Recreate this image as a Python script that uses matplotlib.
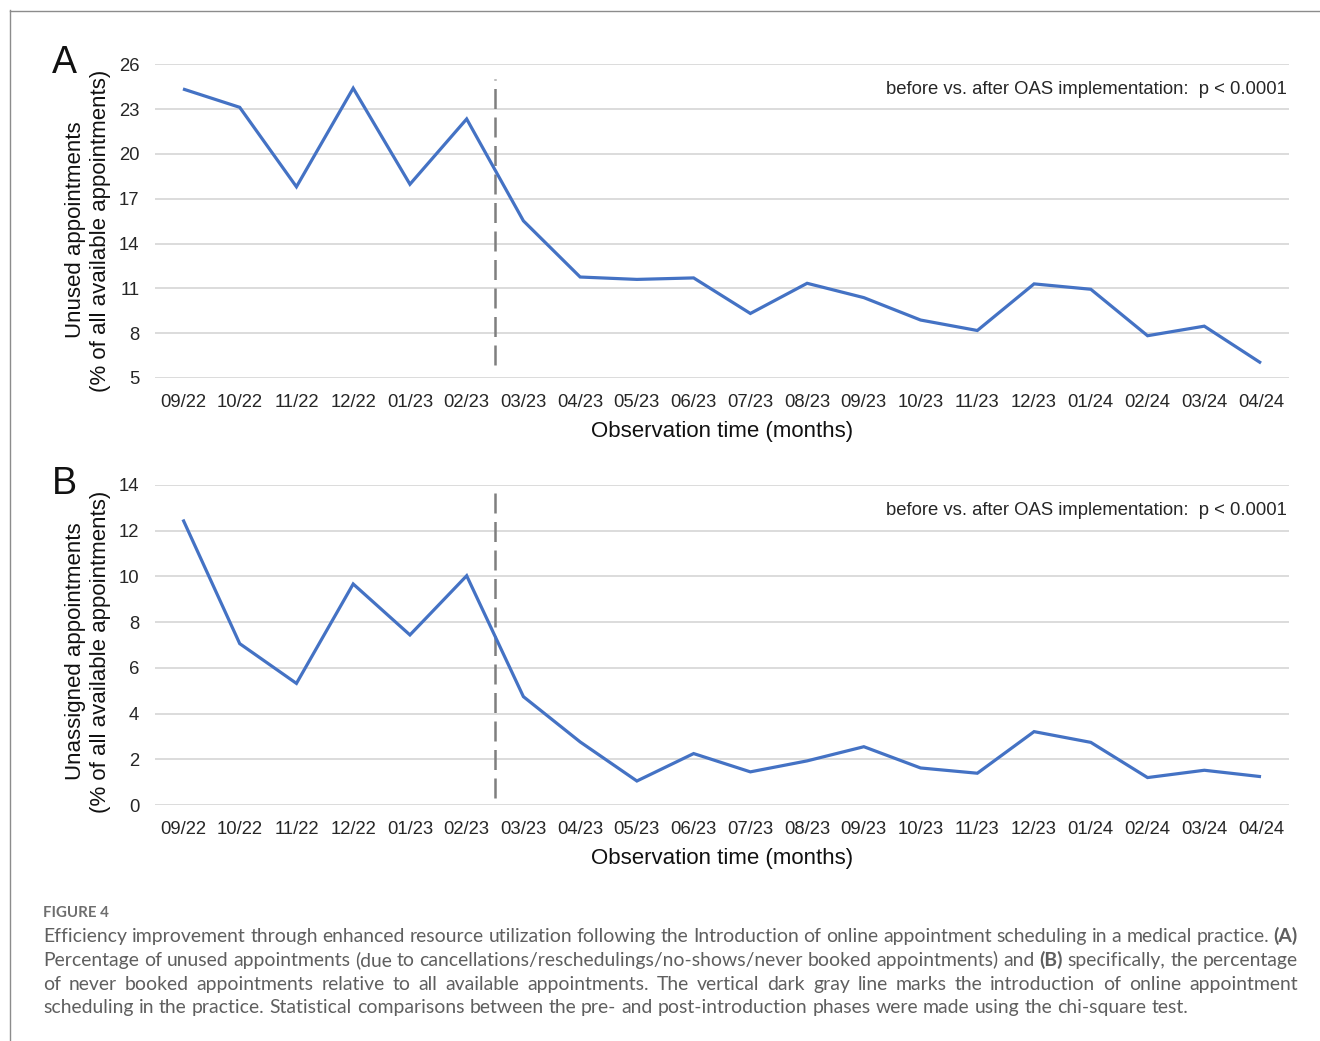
import matplotlib
matplotlib.use("Agg")
import matplotlib.pyplot as plt
from matplotlib.lines import Line2D

# ---- data -------------------------------------------------------------
months = ["09/22", "10/22", "11/22", "12/22", "01/23", "02/23", "03/23",
          "04/23", "05/23", "06/23", "07/23", "08/23", "09/23", "10/23",
          "11/23", "12/23", "01/24", "02/24", "03/24", "04/24"]

unused_pct = [24.35, 23.12, 17.8, 24.4, 17.97, 22.34, 15.52, 11.76, 11.6,
              11.7, 9.32, 11.34, 10.38, 8.88, 8.18, 11.3, 10.94, 7.83,
              8.47, 6.0]

unassigned_pct = [12.49, 7.06, 5.32, 9.67, 7.44, 10.03, 4.74, 2.76, 1.05,
                  2.25, 1.45, 1.93, 2.55, 1.62, 1.39, 3.21, 2.74, 1.2,
                  1.52, 1.24]

yticks_a = [5, 8, 11, 14, 17, 20, 23, 26]
yticks_b = [0, 2, 4, 6, 8, 10, 12, 14]

oas_start = 5.5   # between 02/23 and 03/23
p_text = "before vs. after OAS implementation:  p < 0.0001"

caption_title = "FIGURE 4"
caption_lines = [
    [("Efficiency improvement through enhanced resource utilization following "
      "the Introduction of online appointment scheduling in a medical practice.", "normal"),
     ("(A)", "bold")],
    [("Percentage of unused appointments (due to cancellations/reschedulings/"
      "no-shows/never booked appointments) and", "normal"),
     ("(B)", "bold"),
     ("specifically, the percentage", "normal")],
    [("of never booked appointments relative to all available appointments. "
      "The vertical dark gray line marks the introduction of online appointment", "normal")],
    [("scheduling in the practice. Statistical comparisons between the pre- and "
      "post-introduction phases were made using the chi-square test.", "normal")],
]

# ---- figure -----------------------------------------------------------
W, H = 1320, 1041
fig = plt.figure(figsize=(W / 100, H / 100), dpi=100)
fig.patch.set_facecolor("white")

plt.rcParams["font.family"] = ["Liberation Sans", "DejaVu Sans"]

BLUE = "#4472C4"
GRID = "#d9d9d9"
TXT = "#262626"


def fx(px):
    return px / W


def fy(py):
    return 1 - py / H


def make_panel(top_px, bottom_px, values, yticks, letter, ylab1,
               label_y_px, dash_frac):
    left_px, right_px = 154.6, 1289.4
    ax = fig.add_axes([fx(left_px), fy(bottom_px),
                       (right_px - left_px) / W, (bottom_px - top_px) / H])
    x = list(range(len(months)))
    ax.plot(x, values, color=BLUE, lw=2.3, solid_joinstyle="miter",
            solid_capstyle="butt", zorder=3)
    ax.set_xlim(-0.5, len(months) - 0.5)
    ax.set_ylim(yticks[0], yticks[-1])
    ax.set_yticks(yticks)
    ax.set_xticks(x)
    ax.set_xticklabels(months)
    for s in ax.spines.values():
        s.set_visible(False)
    ax.grid(axis="y", color=GRID, lw=1.3, zorder=0)
    ax.set_axisbelow(True)
    ax.tick_params(axis="both", length=0, labelsize=13.3, labelcolor=TXT)
    ax.tick_params(axis="x", pad=11.5)
    ax.tick_params(axis="y", pad=11)
    ax.set_xlabel("Observation time (months)", fontsize=16, color="#111111",
                  labelpad=7)
    ax.axvline(oas_start, ymin=dash_frac[0], ymax=dash_frac[1],
               color="#7f7f7f", lw=1.8, dashes=(8, 3.4), zorder=2)
    # panel letter and y-axis title
    fig.text(fx(64), fy(top_px - 1), letter, fontsize=27, ha="center",
             va="center", color="#111111")
    fig.text(fx(76), fy(label_y_px), ylab1, rotation=90, fontsize=16,
             ha="center", va="center", color="#111111")
    fig.text(fx(101), fy(label_y_px + 1), "(% of all available appointments)",
             rotation=90, fontsize=16, ha="center", va="center",
             color="#111111")
    fig.text(fx(1287), fy(top_px + 25.5), p_text, fontsize=13.3, ha="right",
             va="center", color=TXT)
    return ax


make_panel(64.3, 378, unused_pct, yticks_a, "A", "Unused appointments",
           230, (0.043, 0.952))
make_panel(485, 805, unassigned_pct, yticks_b, "B", "Unassigned appointments",
           651, (0.021, 0.993))

# frame lines along the top and left edge
fig.add_artist(Line2D([fx(10), 1], [fy(10.5), fy(10.5)], color="#8c8c8c",
                      lw=1.0, transform=fig.transFigure))
fig.add_artist(Line2D([fx(10.5), fx(10.5)], [fy(10), 0], color="#8c8c8c",
                      lw=1.0, transform=fig.transFigure))

# ---- caption ----------------------------------------------------------
CAP_FONT = ["Lato", "DejaVu Sans"]
CAP_COLOR = "#5f5f5f"
CAP_SIZE = 13.95
fig.text(fx(43), fy(913), caption_title, fontsize=10.8, family=CAP_FONT,
         weight="bold", color="#6e6e6e", va="center", ha="left")

fig.canvas.draw()
renderer = fig.canvas.get_renderer()


def text_width(s, weight):
    t = fig.text(0, 0, s, fontsize=CAP_SIZE, family=CAP_FONT, weight=weight)
    w = t.get_window_extent(renderer).width
    t.remove()
    return w


space_w = text_width("a a", "normal") - text_width("aa", "normal")
x0, x1 = 43, 1298
baselines = [942, 966, 990, 1013]

# justified paragraph: all but the last line fill the full width
for i, segments in enumerate(caption_lines):
    words = []
    for seg, weight in segments:
        for wd in seg.split(" "):
            words.append((wd, weight))
    widths = [text_width(wd, wt) for wd, wt in words]
    if i < len(caption_lines) - 1:
        gap = (x1 - x0 - sum(widths)) / (len(words) - 1)
    else:
        gap = space_w
    xp = x0
    for (wd, wt), wdt in zip(words, widths):
        fig.text(fx(xp), fy(baselines[i]), wd, fontsize=CAP_SIZE,
                 family=CAP_FONT, weight=wt, color=CAP_COLOR,
                 ha="left", va="baseline")
        xp += wdt + gap

fig.savefig("out.png", dpi=100)
